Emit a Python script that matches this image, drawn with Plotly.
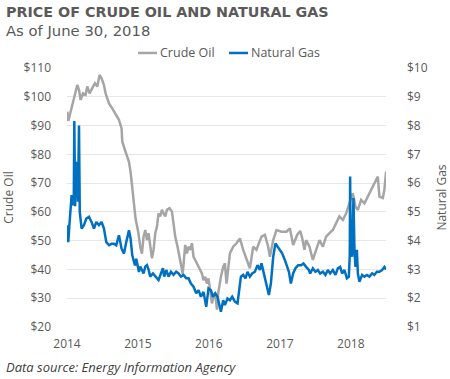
import pandas as pd
import plotly.graph_objects as go

# decimal-year time stamps and prices
oil_t = [2014.004, 2014.018, 2014.051, 2014.075, 2014.113, 2014.145, 2014.169, 2014.192, 2014.225, 2014.262,
         2014.286, 2014.318, 2014.356, 2014.394, 2014.427, 2014.459, 2014.487, 2014.521, 2014.544, 2014.592,
         2014.638, 2014.685, 2014.732, 2014.769, 2014.779, 2014.825, 2014.873, 2014.896, 2014.920, 2014.944,
         2014.966, 2015.004, 2015.032, 2015.056, 2015.079, 2015.103, 2015.127, 2015.149, 2015.173, 2015.197,
         2015.220, 2015.244, 2015.268, 2015.290, 2015.314, 2015.338, 2015.361, 2015.385, 2015.408, 2015.445,
         2015.479, 2015.501, 2015.525, 2015.558, 2015.586, 2015.620, 2015.631, 2015.666, 2015.690, 2015.713,
         2015.737, 2015.761, 2015.783, 2015.807, 2015.831, 2015.868, 2015.901, 2015.924, 2015.948, 2015.972,
         2015.994, 2016.018, 2016.042, 2016.065, 2016.089, 2016.113, 2016.131, 2016.169, 2016.201, 2016.225,
         2016.248, 2016.296, 2016.342, 2016.389, 2016.437, 2016.483, 2016.530, 2016.577, 2016.624, 2016.670,
         2016.704, 2016.741, 2016.789, 2016.835, 2016.859, 2016.906, 2016.952, 2017.023, 2017.093, 2017.141,
         2017.187, 2017.244, 2017.286, 2017.314, 2017.346, 2017.370, 2017.417, 2017.465, 2017.511, 2017.558,
         2017.606, 2017.652, 2017.699, 2017.746, 2017.793, 2017.839, 2017.887, 2017.934, 2017.980, 2018.028,
         2018.065, 2018.099, 2018.145, 2018.192, 2018.239, 2018.286, 2018.332, 2018.380, 2018.403, 2018.451,
         2018.473, 2018.497]
oil_price = [94.8, 91.6, 94.8, 97.2, 100.1, 104.1, 102.4, 98.9, 101.2, 100.7,
             103.6, 101.2, 103.0, 104.7, 103.6, 107.6, 106.4, 104.1, 101.2, 97.7,
             96.0, 94.2, 92.0, 89.0, 84.4, 80.9, 77.4, 73.9, 68.1, 62.3,
             57.7, 53.0, 47.9, 45.5, 51.4, 53.7, 50.2, 52.6, 47.9, 43.9,
             46.8, 52.6, 54.9, 59.5, 58.4, 60.7, 59.5, 58.4, 60.7, 61.3,
             60.1, 56.1, 51.4, 47.9, 44.4, 39.8, 38.5, 48.5, 45.6, 47.9,
             46.8, 49.1, 44.4, 43.3, 42.1, 40.4, 38.6, 36.3, 37.4, 35.1,
             36.9, 32.8, 28.2, 30.5, 31.7, 26.0, 31.7, 37.5, 40.9, 42.1,
             35.1, 45.6, 47.9, 49.1, 50.8, 46.8, 43.3, 40.4, 47.9, 46.8,
             49.1, 51.4, 52.0, 47.9, 44.4, 50.2, 53.7, 53.1, 53.1, 54.3,
             48.5, 52.0, 53.4, 51.0, 46.8, 50.2, 47.9, 43.3, 46.8, 50.2,
             47.9, 51.4, 52.6, 53.7, 56.1, 58.4, 57.2, 59.5, 63.0, 66.5,
             61.8, 60.7, 64.2, 63.0, 65.3, 67.7, 70.0, 72.3, 65.3, 64.8,
             67.7, 74.0]

gas_t = [2014.004, 2014.018, 2014.037, 2014.065, 2014.085, 2014.096, 2014.103, 2014.114, 2014.121, 2014.141,
         2014.155, 2014.169, 2014.180, 2014.206, 2014.239, 2014.272, 2014.310, 2014.346, 2014.380, 2014.413,
         2014.451, 2014.487, 2014.521, 2014.554, 2014.592, 2014.628, 2014.662, 2014.694, 2014.732, 2014.769,
         2014.803, 2014.835, 2014.873, 2014.896, 2014.920, 2014.958, 2014.976, 2015.014, 2015.032, 2015.056,
         2015.079, 2015.103, 2015.127, 2015.149, 2015.173, 2015.211, 2015.244, 2015.290, 2015.324, 2015.352,
         2015.370, 2015.399, 2015.431, 2015.465, 2015.501, 2015.539, 2015.572, 2015.606, 2015.642, 2015.680,
         2015.713, 2015.746, 2015.783, 2015.821, 2015.854, 2015.887, 2015.924, 2015.962, 2015.994, 2016.028,
         2016.056, 2016.089, 2016.121, 2016.145, 2016.169, 2016.201, 2016.225, 2016.262, 2016.296, 2016.328,
         2016.366, 2016.403, 2016.423, 2016.451, 2016.483, 2016.515, 2016.544, 2016.577, 2016.610, 2016.648,
         2016.685, 2016.718, 2016.741, 2016.779, 2016.811, 2016.845, 2016.873, 2016.906, 2016.938, 2016.966,
         2017.000, 2017.032, 2017.070, 2017.093, 2017.127, 2017.155, 2017.187, 2017.220, 2017.258, 2017.300,
         2017.332, 2017.370, 2017.408, 2017.427, 2017.465, 2017.501, 2017.535, 2017.568, 2017.606, 2017.642,
         2017.676, 2017.708, 2017.746, 2017.783, 2017.817, 2017.849, 2017.877, 2017.910, 2017.944, 2017.972,
         2017.985, 2017.990, 2017.997, 2018.018, 2018.037, 2018.051, 2018.065, 2018.085, 2018.099, 2018.121,
         2018.159, 2018.192, 2018.225, 2018.262, 2018.300, 2018.332, 2018.366, 2018.403, 2018.441, 2018.473,
         2018.497]
gas_price = [4.54, 3.95, 4.65, 5.58, 5.23, 5.60, 8.16, 5.20, 5.81, 6.74,
             5.35, 8.00, 5.00, 4.42, 4.54, 4.77, 4.83, 4.65, 4.42, 4.65,
             4.54, 4.65, 4.42, 3.95, 3.84, 3.89, 3.89, 3.84, 4.19, 3.72,
             3.55, 3.95, 4.36, 4.07, 3.49, 3.14, 3.37, 2.91, 3.10, 2.98,
             2.86, 3.10, 3.15, 3.00, 2.75, 2.86, 2.75, 2.63, 2.86, 3.04,
             2.75, 2.98, 2.75, 2.92, 2.81, 2.92, 2.86, 2.75, 2.81, 2.69,
             2.69, 2.51, 2.40, 2.17, 2.28, 2.05, 2.22, 1.70, 2.34, 2.28,
             2.05, 2.17, 2.05, 1.82, 1.53, 1.93, 1.76, 1.99, 1.93, 2.05,
             1.88, 1.82, 2.28, 2.75, 2.81, 2.69, 2.92, 2.75, 2.86, 2.92,
             3.15, 2.98, 3.21, 2.81, 2.51, 2.11, 2.51, 3.44, 3.90, 3.79,
             3.70, 3.56, 3.33, 3.15, 2.92, 2.51, 2.86, 3.04, 3.15, 3.15,
             3.21, 3.09, 2.98, 2.86, 3.04, 2.92, 2.98, 2.86, 2.92, 2.81,
             2.98, 2.86, 2.98, 2.81, 3.04, 3.09, 2.86, 2.98, 2.69, 2.75,
             3.50, 6.23, 3.70, 3.44, 5.48, 3.68, 3.09, 3.68, 2.86, 2.57,
             2.81, 2.75, 2.81, 2.75, 2.86, 2.81, 2.92, 2.92, 2.98, 3.09,
             3.00]

oil_ticks = [20, 30, 40, 50, 60, 70, 80, 90, 100, 110]
gas_ticks = [1, 2, 3, 4, 5, 6, 7, 8, 9, 10]
year_ticks = ["2014", "2015", "2016", "2017", "2018"]
series_names = ["Crude Oil", "Natural Gas"]


def to_dates(ts):
    base = pd.Timestamp("2014-01-01")
    return [base + pd.Timedelta(days=(t - 2014) * 365.25) for t in ts]


GRAY = "#A5A5A5"
BLUE = "#0070C0"
TXT = "#595959"
FONT = "Open Sans"
colors = [GRAY, BLUE]

fig = go.Figure()
fig.add_trace(go.Scatter(x=to_dates(oil_t), y=oil_price, name=series_names[0], mode="lines",
                         line=dict(color=GRAY, width=2.5), yaxis="y", showlegend=False))
fig.add_trace(go.Scatter(x=to_dates(gas_t), y=gas_price, name=series_names[1], mode="lines",
                         line=dict(color=BLUE, width=2.5), yaxis="y2", showlegend=False))

# compact legend (short line samples, as in the original)
PLOT_L, PLOT_W = 67, 319
def px(xp):
    return (xp - PLOT_L) / PLOT_W

legend_y = 1.058
legend_line_x = [(138, 157), (229, 248)]
shapes, legend_ann = [], []
for name, col, (x0, x1) in zip(series_names, colors, legend_line_x):
    shapes.append(dict(type="line", xref="paper", yref="paper", x0=px(x0), x1=px(x1),
                       y0=legend_y, y1=legend_y, line=dict(color=col, width=2.5)))
    legend_ann.append(dict(text=name, xref="paper", yref="paper", x=px(x1 + 1), y=legend_y,
                           xanchor="left", yanchor="middle", showarrow=False,
                           font=dict(size=12.5, color=TXT, family=FONT)))

fig.update_layout(
    width=450, height=379,
    margin=dict(l=67, r=64, t=68, b=52, autoexpand=False),
    paper_bgcolor="white", plot_bgcolor="white",
    font=dict(family=FONT, size=12, color=TXT),
    showlegend=False,
    xaxis=dict(type="date", range=[pd.Timestamp("2014-01-01"), pd.Timestamp("2018-07-01")],
               tickvals=[pd.Timestamp(y + "-01-01") for y in year_ticks], ticktext=year_ticks,
               showgrid=False, zeroline=False, showline=False, ticks="", automargin=False,
               tickfont=dict(size=12, color=TXT), ticklabelstandoff=8),
    yaxis=dict(range=[20, 110], tickvals=oil_ticks, ticktext=["$" + str(v) for v in oil_ticks],
               showgrid=True, gridcolor="#E6E6E6", gridwidth=1, zeroline=False, showline=False,
               ticks="", automargin=False,
               tickfont=dict(size=12, color=TXT), ticklabelstandoff=15,
               title=dict(text="Crude Oil", font=dict(size=12, color=TXT), standoff=12)),
    yaxis2=dict(range=[1, 10], tickvals=gas_ticks, ticktext=["$" + str(v) for v in gas_ticks],
                overlaying="y", side="right", automargin=False,
                showgrid=False, zeroline=False, showline=False, ticks="",
                tickfont=dict(size=12, color=TXT), ticklabelstandoff=20,
                title=dict(text="Natural Gas", font=dict(size=12, color=TXT), standoff=10)),
    shapes=shapes,
    annotations=[
        dict(text="<b>PRICE OF CRUDE OIL AND NATURAL GAS</b>", xref="paper", yref="paper",
             x=-0.197, y=1.218, xanchor="left", yanchor="middle", showarrow=False,
             font=dict(size=14.3, color="#5A5A5A", family="DejaVu Sans")),
        dict(text="As of June 30, 2018", xref="paper", yref="paper",
             x=-0.197, y=1.143, xanchor="left", yanchor="middle", showarrow=False,
             font=dict(size=14.8, color=TXT, family="DejaVu Sans")),
        dict(text="<i>Data source: Energy Information Agency</i>", xref="paper", yref="paper",
             x=-0.197, y=-0.155, xanchor="left", yanchor="middle", showarrow=False,
             font=dict(size=13, color="#404040", family=FONT)),
    ] + legend_ann,
)

fig.write_html("out.html", config={"displayModeBar": False},
               post_script="document.body.style.margin='0';")
